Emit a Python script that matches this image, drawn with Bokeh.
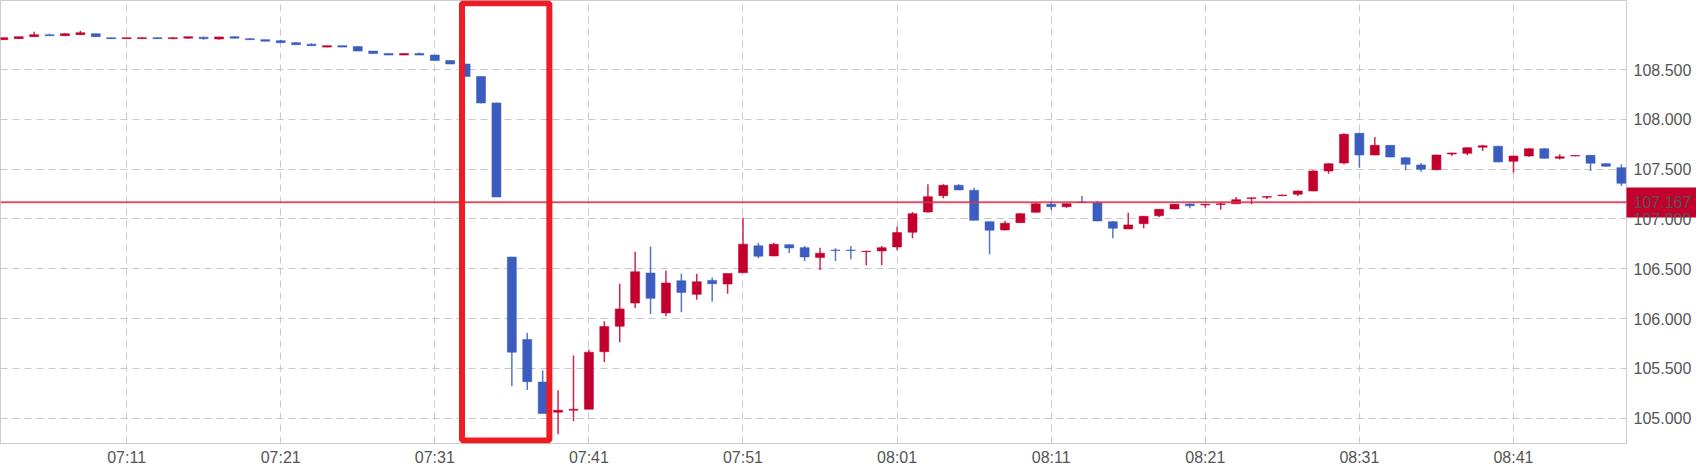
import pandas as pd
from bokeh.plotting import figure
from bokeh.models import (ColumnDataSource, Range1d, FixedTicker, DatetimeTickFormatter,
                          NumeralTickFormatter, Span, BoxAnnotation)
from bokeh.embed import file_html
from bokeh.resources import INLINE

# USD/JPY 1-minute candles, 2019-01-03 07:03 - 08:48
start = "2019-01-03 07:03"
opens = [108.80, 108.81, 108.83, 108.85, 108.84, 108.85, 108.86, 108.82, 108.81, 108.81,
         108.82, 108.81, 108.815, 108.825, 108.807, 108.83, 108.81, 108.80, 108.79, 108.77,
         108.755, 108.725, 108.74, 108.73, 108.685, 108.66, 108.645, 108.66, 108.645, 108.59,
         108.555, 108.43, 108.165, 106.617, 105.79, 105.363, 105.06, 105.08, 105.09, 105.667,
         105.923, 106.157, 106.457, 106.057, 106.38, 106.243, 106.383, 106.347, 106.46, 106.73,
         106.629, 106.742, 106.712, 106.612, 106.688, 106.688, 106.672, 106.679, 106.719, 106.867,
         107.07, 107.234, 107.338, 107.288, 106.973, 106.89, 106.963, 107.067, 107.147, 107.123,
         107.17, 107.16, 106.973, 106.9, 106.953, 107.033, 107.1, 107.15, 107.14, 107.145,
         107.153, 107.205, 107.218, 107.234, 107.248, 107.281, 107.481, 107.562, 107.86, 107.642,
         107.739, 107.615, 107.542, 107.494, 107.652, 107.659, 107.72, 107.73, 107.579, 107.632,
         107.705, 107.609, 107.632, 107.639, 107.555, 107.515]
highs = [108.82, 108.83, 108.88, 108.86, 108.865, 108.89, 108.86, 108.82, 108.82, 108.825,
         108.825, 108.825, 108.83, 108.83, 108.83, 108.835, 108.817, 108.80, 108.80, 108.773,
         108.765, 108.74, 108.74, 108.73, 108.687, 108.663, 108.66, 108.67, 108.647, 108.59,
         108.557, 108.43, 108.167, 106.62, 105.857, 105.48, 105.28, 105.63, 105.69, 105.973,
         106.35, 106.67, 106.723, 106.483, 106.45, 106.45, 106.413, 106.455, 107.013, 106.762,
         106.762, 106.745, 106.729, 106.712, 106.706, 106.729, 106.68, 106.729, 106.923, 107.07,
         107.348, 107.348, 107.348, 107.314, 106.975, 106.98, 107.06, 107.163, 107.174, 107.155,
         107.231, 107.18, 106.98, 107.063, 107.03, 107.10, 107.15, 107.155, 107.15, 107.167,
         107.221, 107.215, 107.23, 107.242, 107.285, 107.49, 107.56, 107.86, 107.865, 107.822,
         107.74, 107.62, 107.562, 107.645, 107.665, 107.72, 107.745, 107.735, 107.635, 107.71,
         107.712, 107.649, 107.64, 107.642, 107.56, 107.549]
lows = [108.80, 108.81, 108.83, 108.84, 108.84, 108.85, 108.83, 108.81, 108.81, 108.81,
        108.81, 108.805, 108.81, 108.80, 108.80, 108.815, 108.80, 108.785, 108.77, 108.75,
        108.74, 108.723, 108.725, 108.685, 108.66, 108.645, 108.645, 108.645, 108.59, 108.555,
        108.43, 108.16, 107.22, 105.32, 105.283, 105.047, 104.84, 104.97, 105.09, 105.563,
        105.763, 106.107, 106.047, 106.023, 106.063, 106.19, 106.17, 106.25, 106.46, 106.606,
        106.625, 106.659, 106.579, 106.488, 106.579, 106.596, 106.536, 106.536, 106.686, 106.806,
        107.063, 107.208, 107.29, 106.985, 106.646, 106.885, 106.96, 107.065, 107.09, 107.113,
        107.16, 106.978, 106.806, 106.898, 106.907, 107.02, 107.097, 107.107, 107.113, 107.093,
        107.15, 107.147, 107.20, 107.232, 107.231, 107.278, 107.454, 107.549, 107.515, 107.64,
        107.62, 107.488, 107.474, 107.49, 107.632, 107.639, 107.682, 107.57, 107.464, 107.625,
        107.605, 107.598, 107.63, 107.481, 107.525, 107.331]
closes = [108.82, 108.83, 108.85, 108.84, 108.86, 108.87, 108.83, 108.81, 108.82, 108.82,
          108.81, 108.82, 108.83, 108.81, 108.827, 108.815, 108.80, 108.785, 108.77, 108.75,
          108.74, 108.74, 108.725, 108.685, 108.66, 108.645, 108.66, 108.645, 108.59, 108.555,
          108.43, 108.165, 107.22, 105.663, 105.367, 105.047, 105.08, 105.09, 105.663, 105.92,
          106.097, 106.47, 106.203, 106.357, 106.263, 106.37, 106.35, 106.453, 106.747, 106.626,
          106.746, 106.709, 106.619, 106.656, 106.684, 106.684, 106.676, 106.712, 106.863, 107.053,
          107.224, 107.338, 107.291, 106.987, 106.887, 106.957, 107.053, 107.153, 107.123, 107.153,
          107.165, 106.98, 106.907, 106.94, 107.027, 107.097, 107.147, 107.133, 107.147, 107.152,
          107.194, 107.212, 107.226, 107.24, 107.281, 107.481, 107.555, 107.85, 107.642, 107.739,
          107.622, 107.549, 107.498, 107.642, 107.662, 107.715, 107.735, 107.572, 107.632, 107.705,
          107.609, 107.625, 107.637, 107.559, 107.529, 107.358]
last_price = 107.167
time_ticks = ["07:11", "07:21", "07:31", "07:41", "07:51", "08:01", "08:11", "08:21", "08:31", "08:41"]
price_ticks = [105.0, 105.5, 106.0, 106.5, 107.0, 107.5, 108.0, 108.5]

UP = "#c3002d"
DOWN = "#3b5dc0"

times = pd.date_range(start, periods=len(opens), freq="1min")
df = pd.DataFrame(dict(t=times, o=opens, h=highs, l=lows, c=closes))
df["top"] = df[["o", "c"]].max(axis=1)
df["bottom"] = df[["o", "c"]].min(axis=1)
df["color"] = [UP if c >= o else DOWN for o, c in zip(df.o, df.c)]
src = ColumnDataSource(df)

day = "2019-01-03 "
p = figure(width=1696, height=469, x_axis_type="datetime", y_axis_location="right",
           x_range=Range1d(pd.Timestamp(day + "07:02:49"), pd.Timestamp(day + "08:48:20")),
           y_range=Range1d(104.746, 109.193),
           toolbar_location=None, tools="", output_backend="svg",
           min_border_left=0, min_border_top=0, min_border_right=70, min_border_bottom=26)

p.outline_line_color = "#cccccc"
p.background_fill_color = "white"
p.border_fill_color = "white"

p.xaxis.ticker = FixedTicker(ticks=[pd.Timestamp(day + t).value / 1e6 for t in time_ticks])
p.xaxis.formatter = DatetimeTickFormatter(minutes="%H:%M", hourmin="%H:%M", hours="%H:%M")
# price axis: the last price gets its own label, and a thick minor tick paints the red tag behind it
p.yaxis.ticker = FixedTicker(ticks=price_ticks + [last_price], minor_ticks=[last_price])
p.yaxis.formatter = NumeralTickFormatter(format="0.000")
p.ygrid.ticker = FixedTicker(ticks=price_ticks)

for ax in (p.xaxis, p.yaxis):
    ax.axis_line_color = None
    ax.major_tick_line_color = None
    ax.major_tick_out = 0
    ax.major_tick_in = 0
    ax.major_label_text_font = "Liberation Sans"
    ax.major_label_text_font_size = "16px"
    ax.major_label_text_color = "#555555"
p.xaxis.minor_tick_line_color = None
p.xaxis.minor_tick_out = 0
p.xaxis.major_label_standoff = 5
p.yaxis.minor_tick_line_color = UP
p.yaxis.minor_tick_line_width = 30
p.yaxis.minor_tick_in = 0
p.yaxis.minor_tick_out = 70
p.yaxis.major_label_standoff = 7 - 70  # pull labels back over the tag

p.grid.grid_line_color = "#c8c8c8"
p.grid.grid_line_dash = "7 5"
p.grid.grid_line_width = 1

p.segment(x0="t", y0="h", x1="t", y1="l", line_color="color", line_width=1.5, line_alpha=0.85, source=src)
p.vbar(x="t", top="top", bottom="bottom", width=35000, fill_color="color",
       line_color="color", line_alpha=0.55, line_width=1, source=src)

p.add_layout(Span(location=last_price, dimension="width", line_color="#d3324d",
                  line_width=2, line_alpha=0.85))

# highlight box round the crash candles
p.add_layout(BoxAnnotation(left=pd.Timestamp(day + "07:32:46"), right=pd.Timestamp(day + "07:38:26"),
                           top=109.165, bottom=104.776, fill_alpha=0, line_alpha=1,
                           line_color="#ee1c25", line_width=6))

open("out.html", "w").write(file_html(p, INLINE))
